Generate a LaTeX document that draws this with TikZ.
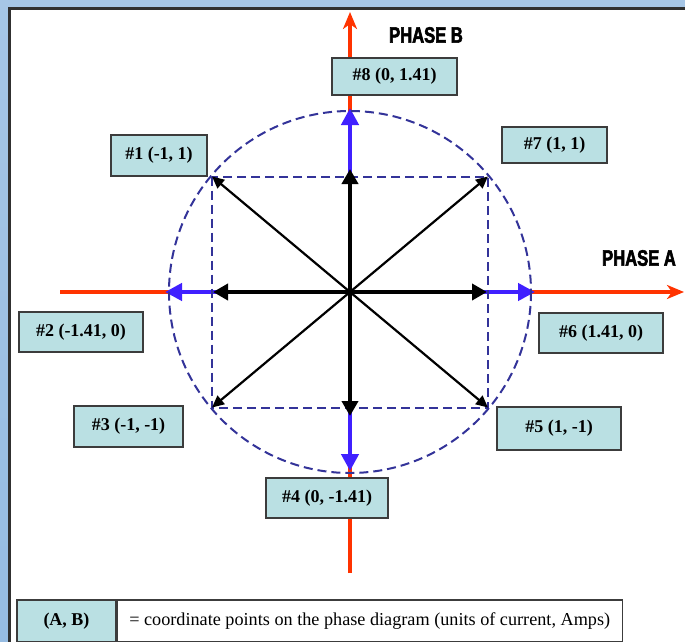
\documentclass[tikz,border=0pt]{standalone}
\usepackage{fontspec}
\setmainfont{Liberation Serif}
\newfontfamily\phasefont[FakeStretch=0.74,FakeBold=2.5]{Liberation Sans}
\usetikzlibrary{arrows.meta}
\definecolor{axisred}{RGB}{255,51,0}
\definecolor{vecblue}{RGB}{64,32,255}
\definecolor{guidenavy}{RGB}{51,51,153}
\definecolor{boxfill}{RGB}{186,224,227}
\definecolor{boxline}{RGB}{60,60,60}
\definecolor{bgblue}{RGB}{150,188,226}
\tikzset{
  lbl/.style={draw=boxline,line width=1.2pt,fill=boxfill,inner sep=0pt,font=\fontsize{18}{21}\selectfont\bfseries},
  axisline/.style={axisred,line width=3.2pt,-{Stealth[length=17pt,width=14pt,inset=5pt]}},
  bluevec/.style={vecblue,line width=4.5pt,-{Triangle[length=17pt,width=17pt]}},
  blackvec/.style={black,line width=4.5pt,-{Triangle[length=15pt,width=16pt]}},
  diagvec/.style={black,line width=2.2pt,-{Triangle[length=12pt,width=11pt]}},
  guide/.style={guidenavy,line width=2pt,dash pattern=on 9pt off 5pt},
  phase/.style={font=\phasefont\bfseries\fontsize{22.4}{24}\selectfont}
}
\begin{document}
\begin{tikzpicture}[x=1pt,y=-1pt]
\useasboundingbox (0,0) rectangle (685,642);
\shade[top color=bgblue!85!white,bottom color=bgblue] (0,0) rectangle (685,642);
\fill[white] (9,9) rectangle (700,660);
\draw[boxline!80!black,line width=3pt] (9,700) -- (9,9) -- (700,9);
\coordinate (O) at (350,292);
\coordinate (axL) at (60,292);
\coordinate (axR) at (684,292);
\coordinate (axB) at (350,573);
\coordinate (axT) at (350,12);
\draw[axisred,line width=3.2pt] (axL) -- (O);
\draw[axisline] (O) -- (axR);
\draw[axisred,line width=3.2pt] (axB) -- (O);
\draw[axisline] (O) -- (axT);
\foreach \nm/\px/\py in {b2/165/292,b6/535/292,b8/350/108,b4/350/471} {
  \coordinate (\nm) at (\px,\py);
  \draw[bluevec] (O) -- (\nm);
}
\draw[guide] (O) circle (181);
\coordinate (c1) at (212,176.5);
\coordinate (c7) at (488,176.5);
\coordinate (c3) at (212,407.5);
\coordinate (c5) at (488,407.5);
\draw[guide] (c1) rectangle (c5);
\foreach \nm/\px/\py in {k2/213/292,k6/487/292,k8/350/169,k4/350/416} {
  \coordinate (\nm) at (\px,\py);
  \draw[blackvec] (O) -- (\nm);
}
\foreach \nm in {c1,c7,c3,c5} \draw[diagvec] (O) -- (\nm);
\node[phase] (phaseB) at (426,35) {PHASE B};
\node[phase] (phaseA) at (639,258) {PHASE A};
\node[lbl,minimum width=125pt,minimum height=37pt] (n8) at (394.5,76.5) {\#8 (0, 1.41)};
\node[lbl,minimum width=96pt,minimum height=41pt] (n1) at (159,155.5) {\#1 (-1, 1)};
\node[lbl,minimum width=105pt,minimum height=36pt] (n7) at (554.5,145) {\#7 (1, 1)};
\node[lbl,minimum width=124pt,minimum height=40pt] (n2) at (81,332) {\#2 (-1.41, 0)};
\node[lbl,minimum width=124pt,minimum height=40pt] (n6) at (601,333) {\#6 (1.41, 0)};
\node[lbl,minimum width=109pt,minimum height=41pt] (n3) at (128.5,426.5) {\#3 (-1, -1)};
\node[lbl,minimum width=124pt,minimum height=43pt] (n5) at (559,428.5) {\#5 (1, -1)};
\node[lbl,minimum width=122pt,minimum height=40pt] (n4) at (327,498) {\#4 (0, -1.41)};
\node[lbl,minimum width=99pt,minimum height=42pt] (legkey) at (66.5,621) {(A, B)};
\node[draw=boxline,line width=1.2pt,fill=white,inner sep=0pt,minimum width=505pt,minimum height=42pt,font=\fontsize{18.2}{21}\selectfont,anchor=west] (legtext) at (legkey.east) {= coordinate points on the phase diagram (units of current, Amps)};
\end{tikzpicture}
\end{document}
